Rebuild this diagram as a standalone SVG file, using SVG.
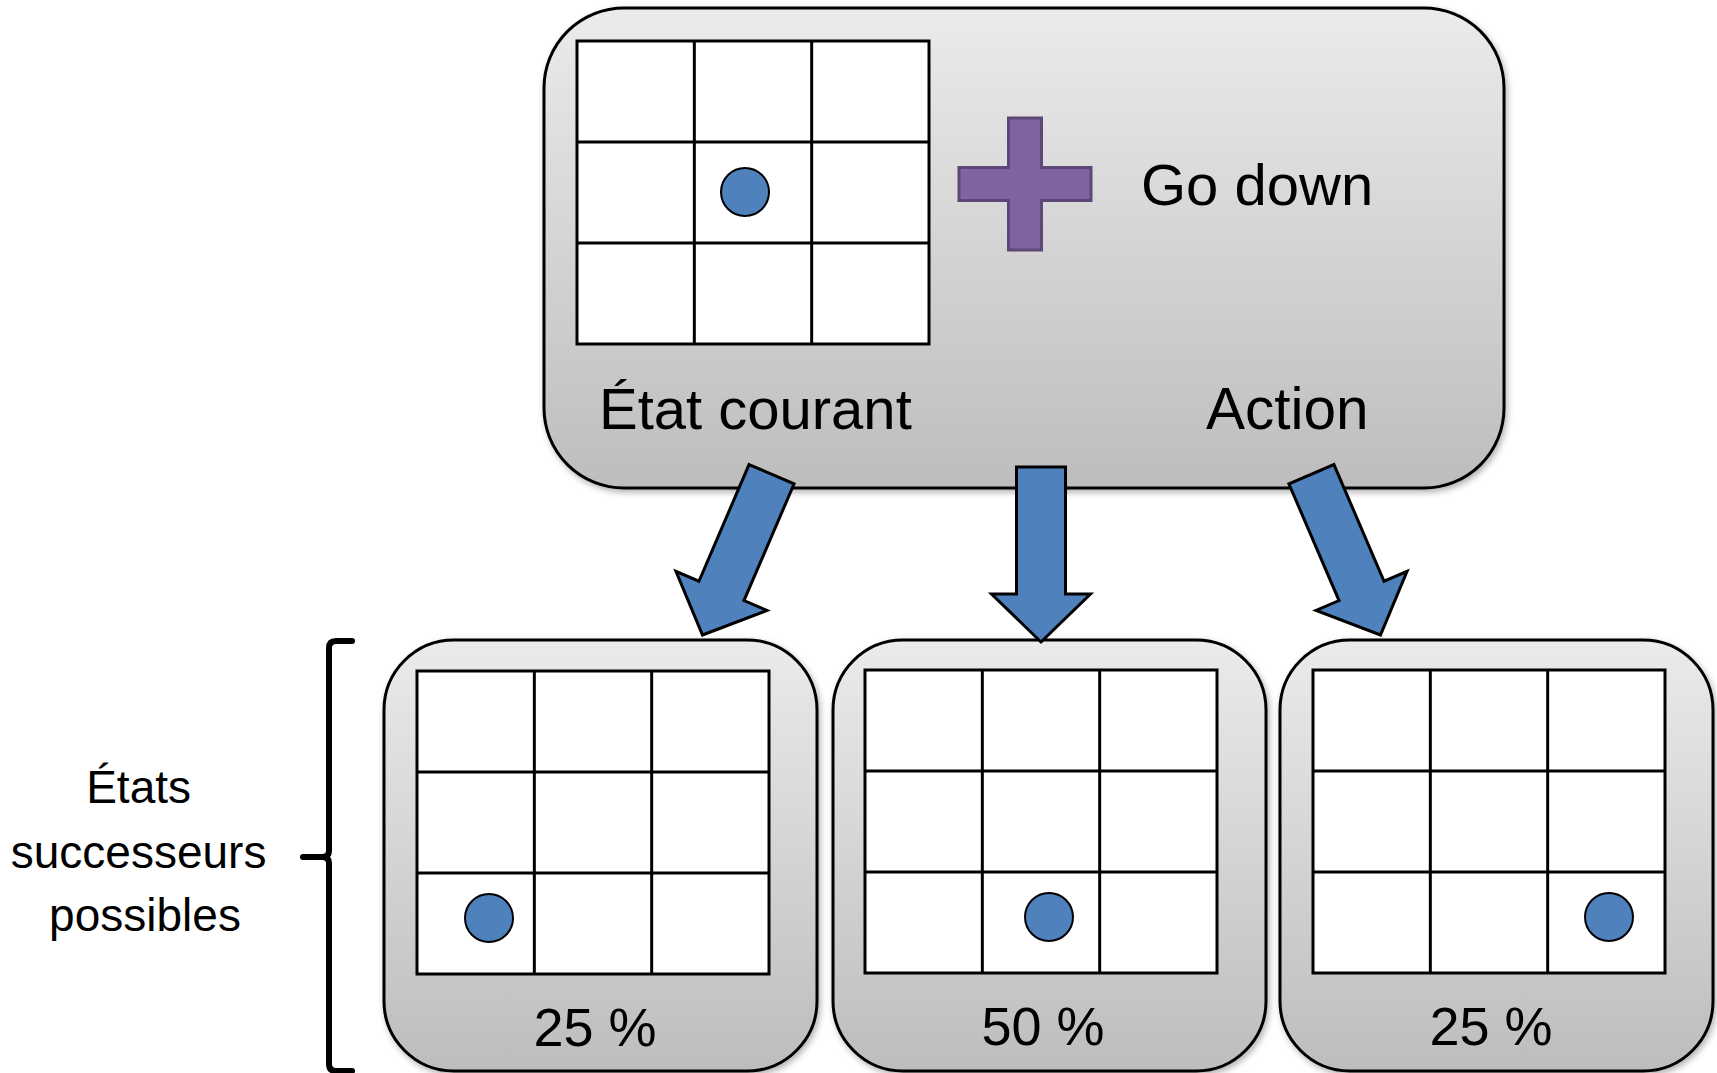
<svg xmlns="http://www.w3.org/2000/svg" xmlns:xlink="http://www.w3.org/1999/xlink" width="1717" height="1073" viewBox="0 0 1717 1073">
  <style>
    .panel { fill: url(#panelFill); stroke: #000; stroke-width: 3; filter: url(#softShadow); }
    .label { font-family: "Liberation Sans", Arial, sans-serif; fill: #000; }
    .pawn { fill: #4F81BD; stroke: #000; stroke-width: 2; }
    .flow { fill: #4F81BD; stroke: #000; stroke-width: 3; stroke-linejoin: miter; }
    .brace { fill: none; stroke: #000; stroke-width: 6; stroke-linecap: round; stroke-linejoin: round; }
  </style>
  <defs>
    <linearGradient id="panelFill" x1="0" y1="0" x2="0" y2="1">
      <stop offset="0" stop-color="#EBEBEB"/>
      <stop offset="1" stop-color="#BDBDBD"/>
    </linearGradient>
    <filter id="softShadow" x="-5%" y="-5%" width="115%" height="115%">
      <feDropShadow dx="2" dy="3" stdDeviation="3" flood-color="#000" flood-opacity="0.3"/>
    </filter>
    <!-- 3x3 board -->
    <g id="board">
      <rect x="0" y="0" width="352" height="303" fill="#fff" stroke="#000" stroke-width="3"/>
      <path d="M117.33,0 V303 M234.67,0 V303 M0,101 H352 M0,202 H352" stroke="#000" stroke-width="3" fill="none"/>
    </g>
    <!-- block arrow pointing down, tip at origin -->
    <polygon id="blockArrow" points="-24.5,-175 24.5,-175 24.5,-48 49.5,-48 0,0 -49.5,-48 -24.5,-48"/>
  </defs>

  <rect width="1717" height="1073" fill="#fff"/>

  <!-- current state + action -->
  <g id="current">
    <rect class="panel" x="544" y="8" width="960" height="480" rx="80" ry="80"/>
    <use xlink:href="#board" x="577" y="41"/>
    <circle class="pawn" cx="745" cy="192" r="24"/>
    <path d="M1008.5,118 H1041.5 V167.5 H1091 V200.5 H1041.5 V250 H1008.5 V200.5 H959 V167.5 H1008.5 Z" fill="#8064A2" stroke="#5C4776" stroke-width="3"/>
    <text class="label" x="1141" y="205" font-size="58">Go down</text>
    <text class="label" x="599" y="429" font-size="58">État courant</text>
    <text class="label" x="1206" y="429" font-size="58.5">Action</text>
  </g>

  <!-- successor: bottom-left -->
  <g id="succ-left">
    <rect class="panel" x="384" y="640" width="433" height="431" rx="70" ry="70"/>
    <use xlink:href="#board" x="417" y="671"/>
    <circle class="pawn" cx="489" cy="918" r="24"/>
    <text class="label" x="595" y="1046" font-size="54" text-anchor="middle">25 %</text>
  </g>

  <!-- successor: bottom-middle -->
  <g id="succ-middle">
    <rect class="panel" x="833" y="640" width="433" height="431" rx="70" ry="70"/>
    <use xlink:href="#board" x="865" y="670"/>
    <circle class="pawn" cx="1049" cy="917" r="24"/>
    <text class="label" x="1043" y="1045" font-size="54" text-anchor="middle">50 %</text>
  </g>

  <!-- successor: bottom-right -->
  <g id="succ-right">
    <rect class="panel" x="1280" y="640" width="433" height="431" rx="70" ry="70"/>
    <use xlink:href="#board" x="1313" y="670"/>
    <circle class="pawn" cx="1609" cy="917" r="24"/>
    <text class="label" x="1491" y="1045" font-size="54" text-anchor="middle">25 %</text>
  </g>

  <!-- side caption with brace -->
  <g id="caption">
    <path class="brace" d="M352,641 H336 Q329,641 329,648 V851 Q329,857 322,857 H303 M322,857 Q329,857 329,863 V1064 Q329,1071 336,1071 H352"/>
    <text class="label" font-size="46" text-anchor="middle">
      <tspan x="145" y="803">États</tspan>
      <tspan x="145" y="868">successeurs</tspan>
      <tspan x="145" y="931">possibles</tspan>
    </text>
  </g>

  <!-- transitions -->
  <g id="connectors">
    <use class="flow" xlink:href="#blockArrow" transform="translate(702.5,635) rotate(23.25)"/>
    <use class="flow" xlink:href="#blockArrow" transform="translate(1041,642)"/>
    <use class="flow" xlink:href="#blockArrow" transform="translate(1380.5,635) rotate(-23.25)"/>
  </g>
</svg>
